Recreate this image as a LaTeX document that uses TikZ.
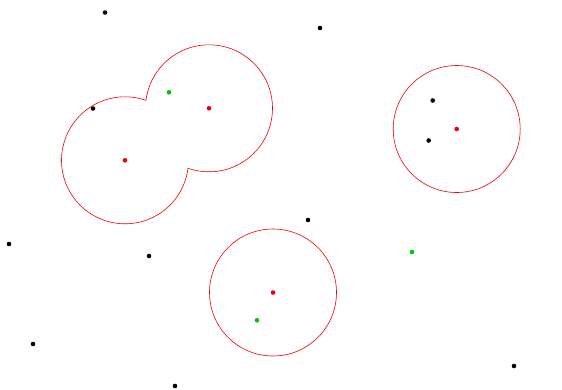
\documentclass[tikz,border=0pt]{standalone}
\usetikzlibrary{positioning}
\definecolor{ptgreen}{RGB}{0,200,0}
\definecolor{ptred}{RGB}{240,0,0}

\begin{document}
\begin{tikzpicture}[
  x=1pt, y=-1pt,
  dot/.style={circle, inner sep=0pt, minimum size=4.6pt},
  blackdot/.style={dot, fill=black},
  greendot/.style={dot, fill=ptgreen},
  reddot/.style={dot, fill=ptred},
  ring/.style={draw=ptred, line width=0.6pt}
]
  \useasboundingbox (0,0) rectangle (562,389);

  % black sample points
  \foreach \i/\x/\y in {1/105/12.5, 2/320/28, 3/93/108.5, 4/432.7/100.5, 5/428.7/140.5,
                        6/308/220, 7/9/244, 8/149/256, 9/33/344, 10/514/366, 11/175/386} {
    \node[blackdot] (b\i) at (\x,\y) {};
  }

  % green sample points
  \foreach \i/\x/\y in {1/169/92.3, 2/412/252, 3/257/320.3} {
    \node[greendot] (g\i) at (\x,\y) {};
  }

  % red centres
  \foreach \i/\x/\y in {1/209/108.3, 2/125/160.3, 3/456.7/129, 4/273/292.5} {
    \node[reddot] (r\i) at (\x,\y) {};
  }

  % --- overlapping pair: only the outline of the union ---
  \begin{scope}[even odd rule]
    \clip (-10,-10) rectangle (572,399) (r2.center) circle (63.5);
    \draw[ring] (r1.center) circle (63.5);
  \end{scope}
  \begin{scope}[even odd rule]
    \clip (-10,-10) rectangle (572,399) (r1.center) circle (63.5);
    \draw[ring] (r2.center) circle (63.5);
  \end{scope}

  % --- single circles ---
  \draw[ring] (r3.center) circle (63.5);
  \draw[ring] (r4.center) circle (63.5);

\end{tikzpicture}
\end{document}
